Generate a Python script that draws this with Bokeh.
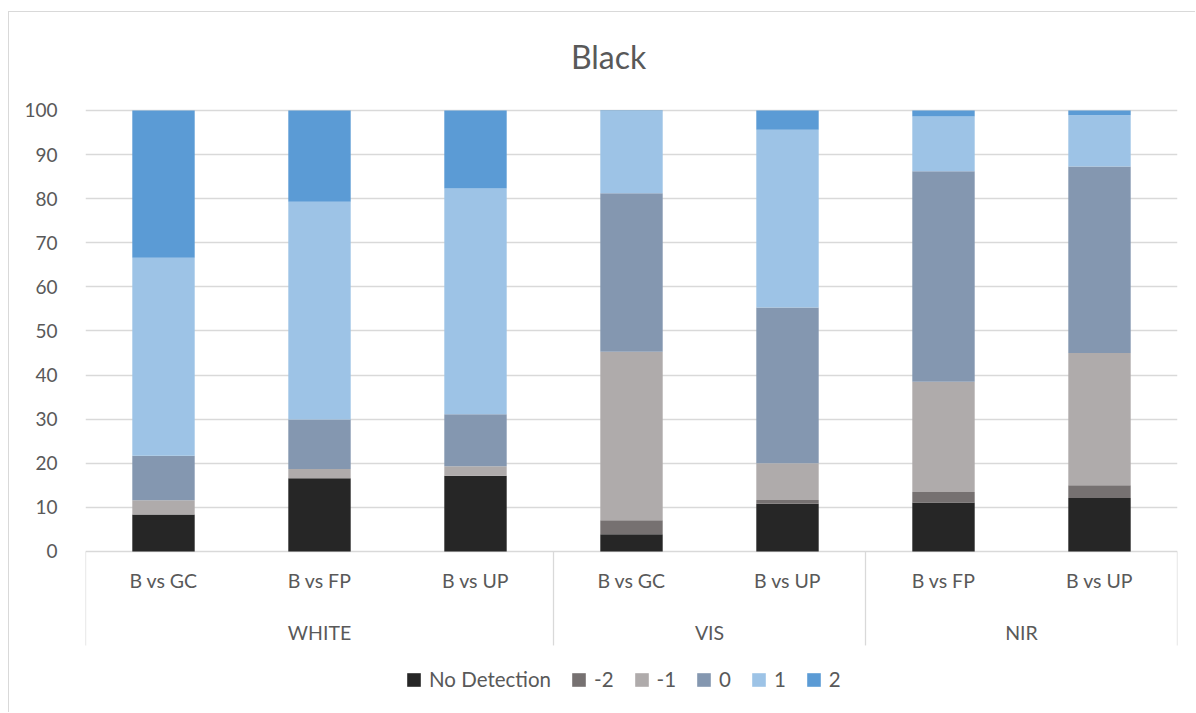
from bokeh.plotting import figure
from bokeh.models import Range1d, FixedTicker, ColumnDataSource, Legend, LegendItem, Label
from bokeh.embed import file_html
from bokeh.resources import INLINE
from bokeh.core.properties import value

# Category structure: light source group and comparison per bar
groups = ["WHITE", "WHITE", "WHITE", "VIS", "VIS", "NIR", "NIR"]
comparisons = ["B vs GC", "B vs FP", "B vs UP", "B vs GC", "B vs UP", "B vs FP", "B vs UP"]

# Percentage share of each score per bar
series_names = ["No Detection", "-2", "-1", "0", "1", "2"]
no_detection = [8.4, 16.6, 17.2, 3.9, 10.8, 11.1, 12.1]
score_m2 = [0.0, 0.0, 0.0, 3.2, 0.9, 2.4, 2.9]
score_m1 = [3.2, 2.1, 2.1, 38.2, 8.3, 25.0, 30.0]
score_0 = [10.1, 11.2, 11.8, 35.9, 35.3, 47.7, 42.3]
score_p1 = [44.9, 49.4, 51.2, 18.6, 40.3, 12.4, 11.6]
score_p2 = [33.4, 20.7, 17.7, 0.2, 4.4, 1.4, 1.1]

y_ticks = [0, 10, 20, 30, 40, 50, 60, 70, 80, 90, 100]
chart_title = "Black"

colors = ["#262626", "#767171", "#AFABAB", "#8497B0", "#9DC3E6", "#5B9BD5"]
FONT = "Lato"
TEXT = "#595959"
GRID = "#D9D9D9"

n = len(comparisons)
xs = [i + 0.5 for i in range(n)]
keys = ["nd", "m2", "m1", "z0", "p1", "p2"]
src = ColumnDataSource(dict(x=xs, nd=no_detection, m2=score_m2, m1=score_m1,
                            z0=score_0, p1=score_p1, p2=score_p2))

# 4.41 px per data unit; the frame spans the whole canvas height so the
# title sits above 100 and the category labels below 0
p = figure(width=1187, height=701,
           x_range=Range1d(0, n), y_range=Range1d(-36.73, 122.2),
           output_backend="svg", toolbar_location=None, x_axis_location=None,
           min_border_left=76, min_border_right=19, min_border_top=0,
           min_border_bottom=0)
p.margin = (11, 0, 0, 8)
p.styles = {"border-left": "1px solid #D9D9D9", "border-top": "1px solid #D9D9D9"}
p.outline_line_color = None
p.background_fill_color = "white"
p.border_fill_color = "white"

p.add_layout(Label(x=3.353, y=112.2, text=chart_title, text_align="center",
                   text_baseline="middle", text_font=FONT, text_font_size="32px",
                   text_color=TEXT))

renderers = p.vbar_stack(keys, x="x", width=0.4, source=src, color=colors,
                         line_color=None)

p.xgrid.visible = False
p.ygrid.ticker = FixedTicker(ticks=y_ticks)
p.ygrid.grid_line_color = GRID
p.ygrid.grid_line_width = 1.3

ax = p.yaxis[0]
ax.ticker = FixedTicker(ticks=y_ticks)
ax.axis_line_color = None
ax.major_tick_line_color = None
ax.minor_tick_line_color = None
ax.major_tick_out = 0
ax.major_tick_in = 0
ax.major_label_standoff = 28
ax.major_label_text_font = FONT
ax.major_label_text_font_size = "19px"
ax.major_label_text_color = TEXT

# Comparison labels under each bar
p.text(x=xs, y=[-6.6] * n, text=comparisons, text_align="center",
       text_baseline="middle", text_font=value(FONT), text_font_size="19.5px",
       text_color=TEXT)

# Group labels and separators between groups
bounds = [0]
for i in range(1, n):
    if groups[i] != groups[i - 1]:
        bounds.append(i)
bounds.append(n)
group_x = [(bounds[k] + bounds[k + 1]) / 2 for k in range(len(bounds) - 1)]
group_names = [groups[b] for b in bounds[:-1]]
p.text(x=group_x, y=[-18.4] * len(group_x), text=group_names, text_align="center",
       text_baseline="middle", text_font=value(FONT), text_font_size="19.5px",
       text_color=TEXT)
p.segment(x0=bounds, y0=[0] * len(bounds), x1=bounds, y1=[-21.3] * len(bounds),
          line_color=GRID, line_width=1.3)

items = [LegendItem(label=name, renderers=[r]) for name, r in zip(series_names, renderers)]
legend = Legend(items=items, location=(320, 22), orientation="horizontal",
                glyph_width=17, glyph_height=17, label_standoff=7, spacing=19,
                label_width=0, label_height=14,
                padding=0, margin=0, border_line_color=None,
                background_fill_alpha=0, label_text_font=FONT,
                label_text_font_size="20.5px", label_text_color=TEXT)
p.add_layout(legend)

open("out.html", "w").write(file_html(p, INLINE))
